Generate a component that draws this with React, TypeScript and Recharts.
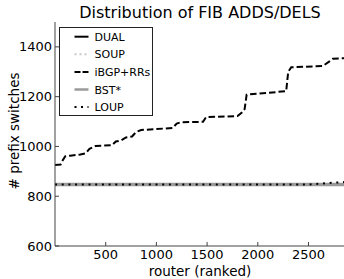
import { Legend, Line, LineChart, XAxis, YAxis } from "recharts";

// router rank -> number of prefix switches
const ibgpRank = [0, 55, 70, 100, 150, 250, 300, 340, 400, 560, 600, 650, 700, 760, 800, 850, 1000, 1160, 1200, 1240, 1460, 1490, 1800, 1840, 1870, 1890, 2000, 2280, 2300, 2330, 2640, 2700, 2740, 2860];
const ibgpValue = [925, 927, 940, 960, 963, 968, 972, 990, 1002, 1005, 1020, 1024, 1036, 1040, 1058, 1066, 1070, 1074, 1092, 1097, 1099, 1118, 1122, 1135, 1150, 1208, 1212, 1222, 1300, 1318, 1323, 1340, 1352, 1355];

const flatRank = [0, 2860];
const dualValue = [847, 847];
const soupValue = [847, 847];
const bstValue = [847, 847];

const loupRank = [0, 2500, 2600, 2700, 2820, 2860];
const loupValue = [847, 847, 850, 853, 856, 857];

const xTicks = [500, 1000, 1500, 2000, 2500];
const yTicks = [600, 800, 1000, 1200, 1400];

const toRows = (xs: number[], ys: number[]) => xs.map((x, i) => ({ rank: x, value: ys[i] }));

const series = [
  { name: "DUAL", data: toRows(flatRank, dualValue), stroke: "#000", width: 2, dash: undefined as string | undefined, legendDash: undefined as string | undefined },
  { name: "SOUP", data: toRows(flatRank, soupValue), stroke: "#c8c8c8", width: 2, dash: "2 4", legendDash: "2 3" },
  { name: "iBGP+RRs", data: toRows(ibgpRank, ibgpValue), stroke: "#000", width: 2, dash: "6.5 3", legendDash: "6 2" },
  { name: "BST*", data: toRows(flatRank, bstValue), stroke: "#9a9a9a", width: 3.5, dash: undefined, legendDash: undefined },
  { name: "LOUP", data: toRows(loupRank, loupValue), stroke: "#000", width: 2, dash: "2 4.7", legendDash: "2 4.5" },
];

const FONT = "DejaVu Sans, sans-serif";
const AXIS = "#444";

function BottomTick({ x, y, payload }: any) {
  return (
    <g>
      <line x1={x} x2={x} y1={y} y2={y - 4} stroke={AXIS} />
      <text x={x} y={y + 13} textAnchor="middle" fontSize={13} fontFamily={FONT} fill="#000">
        {payload.value}
      </text>
    </g>
  );
}

function TopTick({ x, y }: any) {
  return <line x1={x} x2={x} y1={y} y2={y + 4} stroke={AXIS} />;
}

function LeftTick({ x, y, payload }: any) {
  return (
    <g>
      <line x1={x} x2={x + 4} y1={y} y2={y} stroke={AXIS} />
      <text x={x - 3} y={y} dy={4.6} textAnchor="end" fontSize={13} fontFamily={FONT} fill="#000">
        {payload.value}
      </text>
    </g>
  );
}

function RightTick({ x, y }: any) {
  return <line x1={x} x2={x - 4} y1={y} y2={y} stroke={AXIS} />;
}

function LegendBox() {
  return (
    <svg width={94} height={89} style={{ display: "block" }}>
      <rect x={0.5} y={0.5} width={93} height={88} fill="#fff" stroke="#222" />
      {series.map((s, i) => {
        const cy = 9.7 + i * 17.6;
        return (
          <g key={s.name}>
            <line
              x1={15.5}
              x2={29.5}
              y1={cy}
              y2={cy}
              stroke={s.stroke}
              strokeWidth={s.name === "BST*" ? 2.5 : s.width}
              strokeDasharray={s.legendDash}
            />
            <text x={35.5} y={cy} dy={4} fontSize={11} fontFamily={FONT} fill="#000">
              {s.name}
            </text>
          </g>
        );
      })}
    </svg>
  );
}

export default function App() {
  return (
    <div style={{ position: "absolute", left: 0, top: 0, width: 344, height: 279, overflow: "hidden", background: "#fff", fontFamily: FONT }}>
      <div
        style={{
          position: "absolute",
          left: 55,
          width: 290,
          top: 5,
          textAlign: "center",
          fontSize: 16,
          lineHeight: "16px",
          color: "#000",
        }}
      >
        Distribution of FIB ADDS/DELS
      </div>
      <LineChart width={345} height={279} margin={{ top: 22, right: 0, bottom: 0, left: 0 }}>
        <XAxis
          dataKey="rank"
          type="number"
          domain={[0, 2860]}
          ticks={xTicks}
          height={33}
          tickSize={0}
          tickMargin={0}
          tickLine={false}
          stroke={AXIS}
          tick={<BottomTick />}
          allowDuplicatedCategory={false}
          label={{ value: "router (ranked)", position: "insideBottom", offset: 3.5, fontSize: 13.5, fontFamily: FONT, fill: "#000" }}
        />
        <XAxis
          xAxisId="top"
          orientation="top"
          type="number"
          domain={[0, 2860]}
          ticks={xTicks}
          height={0}
          tickSize={0}
          tickMargin={0}
          tickLine={false}
          stroke={AXIS}
          tick={<TopTick />}
        />
        <YAxis
          type="number"
          domain={[600, 1500]}
          ticks={yTicks}
          width={55}
          tickSize={0}
          tickMargin={0}
          tickLine={false}
          stroke={AXIS}
          tick={<LeftTick />}
          label={{ value: "# prefix switches", angle: -90, position: "insideLeft", offset: 14, dy: -3, fontSize: 13.5, fontFamily: FONT, fill: "#000", style: { textAnchor: "middle" } }}
        />
        <YAxis
          yAxisId="right"
          orientation="right"
          type="number"
          domain={[600, 1500]}
          ticks={yTicks}
          width={0}
          tickSize={0}
          tickMargin={0}
          tickLine={false}
          stroke={AXIS}
          tick={<RightTick />}
        />
        {series.map((s) => (
          <Line
            key={s.name}
            data={s.data}
            dataKey="value"
            name={s.name}
            type="linear"
            stroke={s.stroke}
            strokeWidth={s.width}
            strokeDasharray={s.dash}
            dot={false}
            activeDot={false}
            isAnimationActive={false}
          />
        ))}
        <Legend
          layout="vertical"
          align="center"
          verticalAlign="middle"
          wrapperStyle={{ left: 59, top: 27, width: 94, height: 89 }}
          content={<LegendBox />}
        />
      </LineChart>
    </div>
  );
}
